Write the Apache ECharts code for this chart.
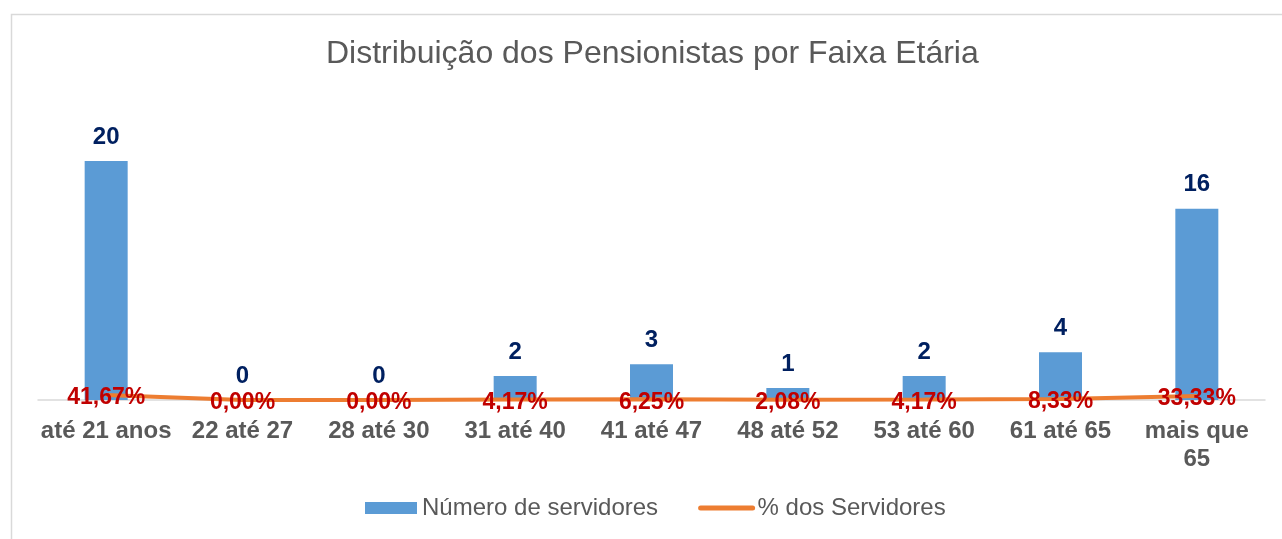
<!DOCTYPE html>
<html>
<head>
<meta charset="utf-8">
<script src="https://cdn.jsdelivr.net/npm/echarts@6/dist/echarts.min.js"></script>
<style>
  html, body { margin: 0; padding: 0; background: #fff; }
  #chart { width: 1282px; height: 539px; }
</style>
</head>
<body>
<div id="chart"></div>
<script>
// dados
var categorias = ['até 21 anos', '22 até 27', '28 até 30', '31 até 40', '41 até 47', '48 até 52', '53 até 60', '61 até 65', 'mais que 65'];
var numeroServidores = [20, 0, 0, 2, 3, 1, 2, 4, 16];
var percServidores = [0.4167, 0, 0, 0.0417, 0.0625, 0.0208, 0.0417, 0.0833, 0.3333];

var fonte = '"Liberation Sans", Arial, sans-serif';
var myChart = echarts.init(document.getElementById('chart'));
var option = {
    backgroundColor: '#fff',
    title: {
        text: 'Distribuição dos Pensionistas por Faixa Etária',
        left: 321,
        top: 33,
        textStyle: { color: '#595959', fontSize: 32, fontWeight: 'normal', fontFamily: fonte }
    },
    graphic: [{
        type: 'rect',
        left: 9, top: 12,
        shape: { width: 1300, height: 600 },
        style: { fill: 'none', stroke: '#D9D9D9', lineWidth: 1.5 },
        silent: true
    }],
    legend: {
        bottom: 14,
        left: 360,
        itemGap: 40,
        itemWidth: 52,
        itemHeight: 12,
        textStyle: { color: '#595959', fontSize: 24, fontFamily: fonte },
        data: [
            { name: 'Número de servidores', icon: 'rect' },
            { name: '% dos Servidores', itemStyle: { opacity: 0 }, lineStyle: { width: 5, cap: 'round' } }
        ]
    },
    grid: { left: 38, right: 17, top: 161, bottom: 139, containLabel: false },
    xAxis: {
        type: 'category',
        data: categorias,
        axisTick: { show: false },
        axisLine: { lineStyle: { color: '#D9D9D9', width: 1.5 } },
        axisLabel: {
            color: '#595959', fontSize: 24, fontWeight: 'bold', fontFamily: fonte,
            margin: 17, lineHeight: 28, interval: 0,
            formatter: function (v) { return v === 'mais que 65' ? 'mais que\n65' : v; }
        }
    },
    yAxis: {
        type: 'value', min: 0, max: 20, show: false,
        splitLine: { show: false }
    },
    series: [
        {
            name: 'Número de servidores',
            type: 'bar',
            data: numeroServidores,
            barWidth: 43,
            itemStyle: { color: '#5B9BD5' },
            label: {
                show: true, position: 'top', distance: 12,
                color: '#002060', fontSize: 24, fontWeight: 'bold', fontFamily: fonte
            },
            z: 2
        },
        {
            name: '% dos Servidores',
            type: 'line',
            data: percServidores,
            symbol: 'circle',
            symbolSize: 1,
            itemStyle: { color: '#ED7D31' },
            lineStyle: { color: '#ED7D31', width: 4 },
            label: {
                show: true, position: 'inside', offset: [0, 3],
                color: '#C00000', fontSize: 23, fontWeight: 'bold', fontFamily: fonte,
                formatter: function (p) { return (p.value * 100).toFixed(2).replace('.', ',') + '%'; }
            },
            z: 3
        }
    ]
};
myChart.setOption(option);
</script>
</body>
</html>
